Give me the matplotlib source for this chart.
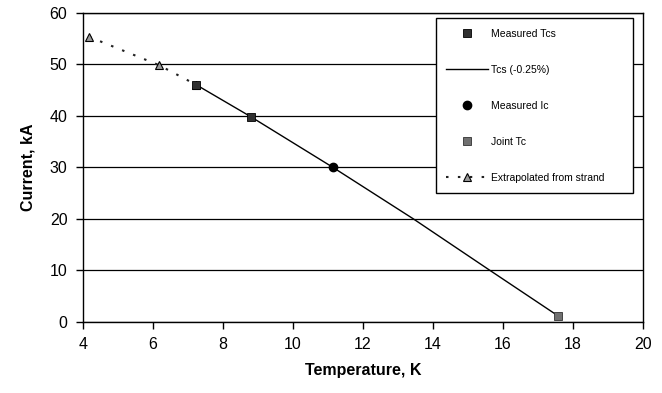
import numpy as np
from matplotlib import pyplot as plt

plt.rcParams['font.family'] = ['Liberation Sans', 'DejaVu Sans']

# data
tcs_meas_t = [7.24, 8.8]
tcs_meas_i = [46.0, 39.8]

tcs_line_t = [7.24, 8.8, 11.14, 13.44, 15.63, 17.57]
tcs_line_i = [46.0, 39.8, 30.0, 20.0, 10.0, 1.2]

ic_meas_t = [11.14]
ic_meas_i = [30.0]

joint_t = [17.57]
joint_i = [1.2]

extrap_t = [4.18, 6.18, 7.24]
extrap_i = [55.3, 49.8, 46.0]

xticks = [4, 6, 8, 10, 12, 14, 16, 18, 20]
yticks = [0, 10, 20, 30, 40, 50, 60]

fig = plt.figure(figsize=(6.62, 3.93), dpi=100)
ax = fig.add_axes([0.125, 0.181, 0.846, 0.787])

# grid first so the marks sit on top
for y in yticks:
    ax.axhline(y, color='black', lw=0.9, zorder=1)

ax.plot(extrap_t, extrap_i, ls=(0, (1.2, 4.5)), lw=1.5, color='#222222',
        marker='^', ms=6, mfc='#9a9a9a', mec='black', mew=0.8,
        label='Extrapolated from strand', zorder=3)
ax.plot(tcs_line_t, tcs_line_i, color='black', lw=1.0,
        label='Tcs (-0.25%)', zorder=2)
ax.plot(tcs_meas_t, tcs_meas_i, ls='none', marker='s', ms=6,
        mfc='#303030', mec='black', mew=0.6, label='Measured Tcs', zorder=4)
ax.plot(ic_meas_t, ic_meas_i, ls='none', marker='o', ms=6,
        mfc='black', mec='black', label='Measured Ic', zorder=4)
ax.plot(joint_t, joint_i, ls='none', marker='s', ms=6,
        mfc='#707070', mec='#303030', mew=0.6, label='Joint Tc', zorder=4)

ax.set_xlim(4, 20)
ax.set_ylim(0, 60)
ax.set_xticks(xticks)
ax.set_yticks(yticks)
ax.tick_params(labelsize=11.5, length=5, width=1, color='black', pad=6)
for s in ax.spines.values():
    s.set_linewidth(1.0)
    s.set_color('black')

ax.set_xlabel('Temperature, K', fontsize=11.5, fontweight='bold', labelpad=8)
ax.set_ylabel('Current, kA', fontsize=11.5, fontweight='bold', labelpad=10)

h, l = ax.get_legend_handles_labels()
order = ['Measured Tcs', 'Tcs (-0.25%)', 'Measured Ic', 'Joint Tc',
         'Extrapolated from strand']
hs = [h[l.index(o)] for o in order]
leg = ax.legend(hs, order, loc='upper left', bbox_to_anchor=(0.630, 0.982, 0.352, 0.0),
                mode='expand', fontsize=7.5, frameon=True, fancybox=False,
                edgecolor='black', framealpha=1, labelspacing=2.5,
                handlelength=4.0, handletextpad=0.3, borderpad=1.0,
                borderaxespad=0)
leg.get_frame().set_linewidth(1.0)
leg.set_zorder(5)

fig.savefig('out.png', dpi=100)
